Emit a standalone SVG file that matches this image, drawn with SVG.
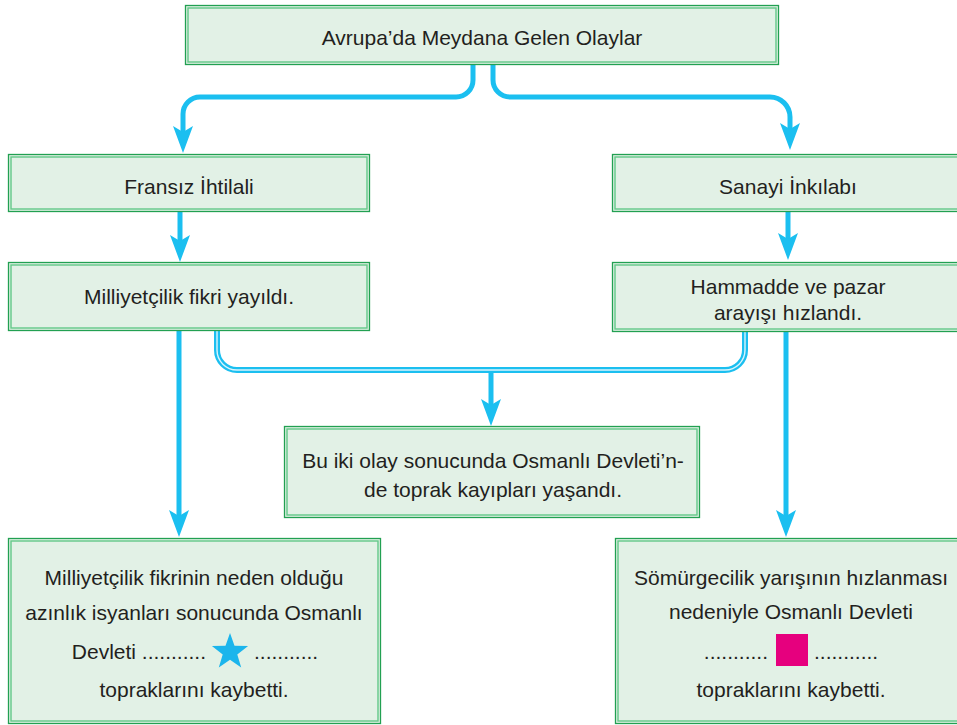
<svg xmlns="http://www.w3.org/2000/svg" width="957" height="725" viewBox="0 0 957 725">
<style>
.box{fill:#e2f1e6;stroke:#22a052;stroke-width:1.3}
.inner{fill:none;stroke:#63c888;stroke-width:1.4}
.t{font-family:"Liberation Sans",Arial,sans-serif;font-size:21px;fill:#231f20;text-anchor:middle}
.c{fill:none;stroke:#1bbff0;stroke-width:5}
.d{fill:none;stroke:#1bbff0;stroke-width:6}
.dl{fill:none;stroke:#d8f4fd;stroke-width:1.4}
</style>
<defs>
<marker id="ah" markerUnits="userSpaceOnUse" markerWidth="30" markerHeight="24" viewBox="0 -12 30 24" refX="12" refY="0" orient="auto">
<path d="M0,-10 L27,0 L0,10 L6,0 Z" fill="#1bbff0"/>
</marker>
</defs>
<rect width="957" height="725" fill="#ffffff"/>
<g id="connectors">
<path class="c" d="M473,64 V80 A17,17 0 0 1 456,97 H200 A17,17 0 0 0 183,114 V138" marker-end="url(#ah)"/>
<path class="c" d="M493,64 V80 A17,17 0 0 0 510,97 H770 A20,20 0 0 1 790,117 V135" marker-end="url(#ah)"/>
<path class="c" d="M180,212 V247" marker-end="url(#ah)"/>
<path class="c" d="M788,212 V245" marker-end="url(#ah)"/>
<path class="c" d="M179,331 V522" marker-end="url(#ah)"/>
<path class="c" d="M786,332 V522" marker-end="url(#ah)"/>
<path class="d" d="M217,331 V350 A20,20 0 0 0 237,370 H725 A20,20 0 0 0 745,350 V332"/>
<path class="dl" d="M217,331 V350 A20,20 0 0 0 237,370 H725 A20,20 0 0 0 745,350 V332"/>
<path class="c" d="M491,372 V411" marker-end="url(#ah)"/>
</g>
<g id="n-avrupa">
<rect class="box" x="185.5" y="5.5" width="593" height="59"/>
<rect class="inner" x="188" y="8" width="588" height="54"/>
<text class="t" x="482" y="45">Avrupa’da Meydana Gelen Olaylar</text>
</g>
<g id="n-fransiz">
<rect class="box" x="8.5" y="154.5" width="361" height="57"/>
<rect class="inner" x="11" y="157" width="356" height="52"/>
<text class="t" x="189" y="194">Fransız İhtilali</text>
</g>
<g id="n-sanayi">
<rect class="box" x="612.5" y="154.5" width="360" height="57"/>
<rect class="inner" x="615" y="157" width="355" height="52"/>
<text class="t" x="788" y="194">Sanayi İnkılabı</text>
</g>
<g id="n-milliyetcilik">
<rect class="box" x="8.5" y="262.5" width="361" height="68"/>
<rect class="inner" x="11" y="265" width="356" height="63"/>
<text class="t" x="189" y="304">Milliyetçilik fikri yayıldı.</text>
</g>
<g id="n-hammadde">
<rect class="box" x="612.5" y="262.5" width="360" height="69"/>
<rect class="inner" x="615" y="265" width="355" height="64"/>
<text class="t" x="788" y="294">Hammadde ve pazar</text>
<text class="t" x="788" y="320">arayışı hızlandı.</text>
</g>
<g id="n-sonuc">
<rect class="box" x="284.5" y="426.5" width="415" height="91"/>
<rect class="inner" x="287" y="429" width="410" height="86"/>
<text class="t" x="493" y="468">Bu iki olay sonucunda Osmanlı Devleti’n-</text>
<text class="t" x="493" y="497">de toprak kayıpları yaşandı.</text>
</g>
<g id="n-milliyetcilik-sonuc">
<rect class="box" x="8.5" y="538.5" width="372" height="185"/>
<rect class="inner" x="11" y="541" width="367" height="180"/>
<text class="t" x="194" y="585">Milliyetçilik fikrinin neden olduğu</text>
<text class="t" x="194" y="620">azınlık isyanları sonucunda Osmanlı</text>
<text class="t" x="206" y="659" style="text-anchor:end">Devleti ...........</text>
<polygon fill="#1bb5ec" points="230,633 234.5,645.8 248.1,646.1 237.3,654.4 241.2,667.4 230,659.7 218.8,667.4 222.7,654.4 211.9,646.1 225.5,645.8"/>
<text class="t" x="254" y="659" style="text-anchor:start">...........</text>
<text class="t" x="194" y="697">topraklarını kaybetti.</text>
</g>
<g id="n-somurge-sonuc">
<rect class="box" x="615.5" y="538.5" width="360" height="185"/>
<rect class="inner" x="618" y="541" width="355" height="180"/>
<text class="t" x="791" y="585">Sömürgecilik yarışının hızlanması</text>
<text class="t" x="791" y="619">nedeniyle Osmanlı Devleti</text>
<text class="t" x="768" y="659" style="text-anchor:end">...........</text>
<rect x="776" y="634" width="32" height="32" fill="#e6007e"/>
<text class="t" x="814" y="659" style="text-anchor:start">...........</text>
<text class="t" x="791" y="697">topraklarını kaybetti.</text>
</g>
</svg>
